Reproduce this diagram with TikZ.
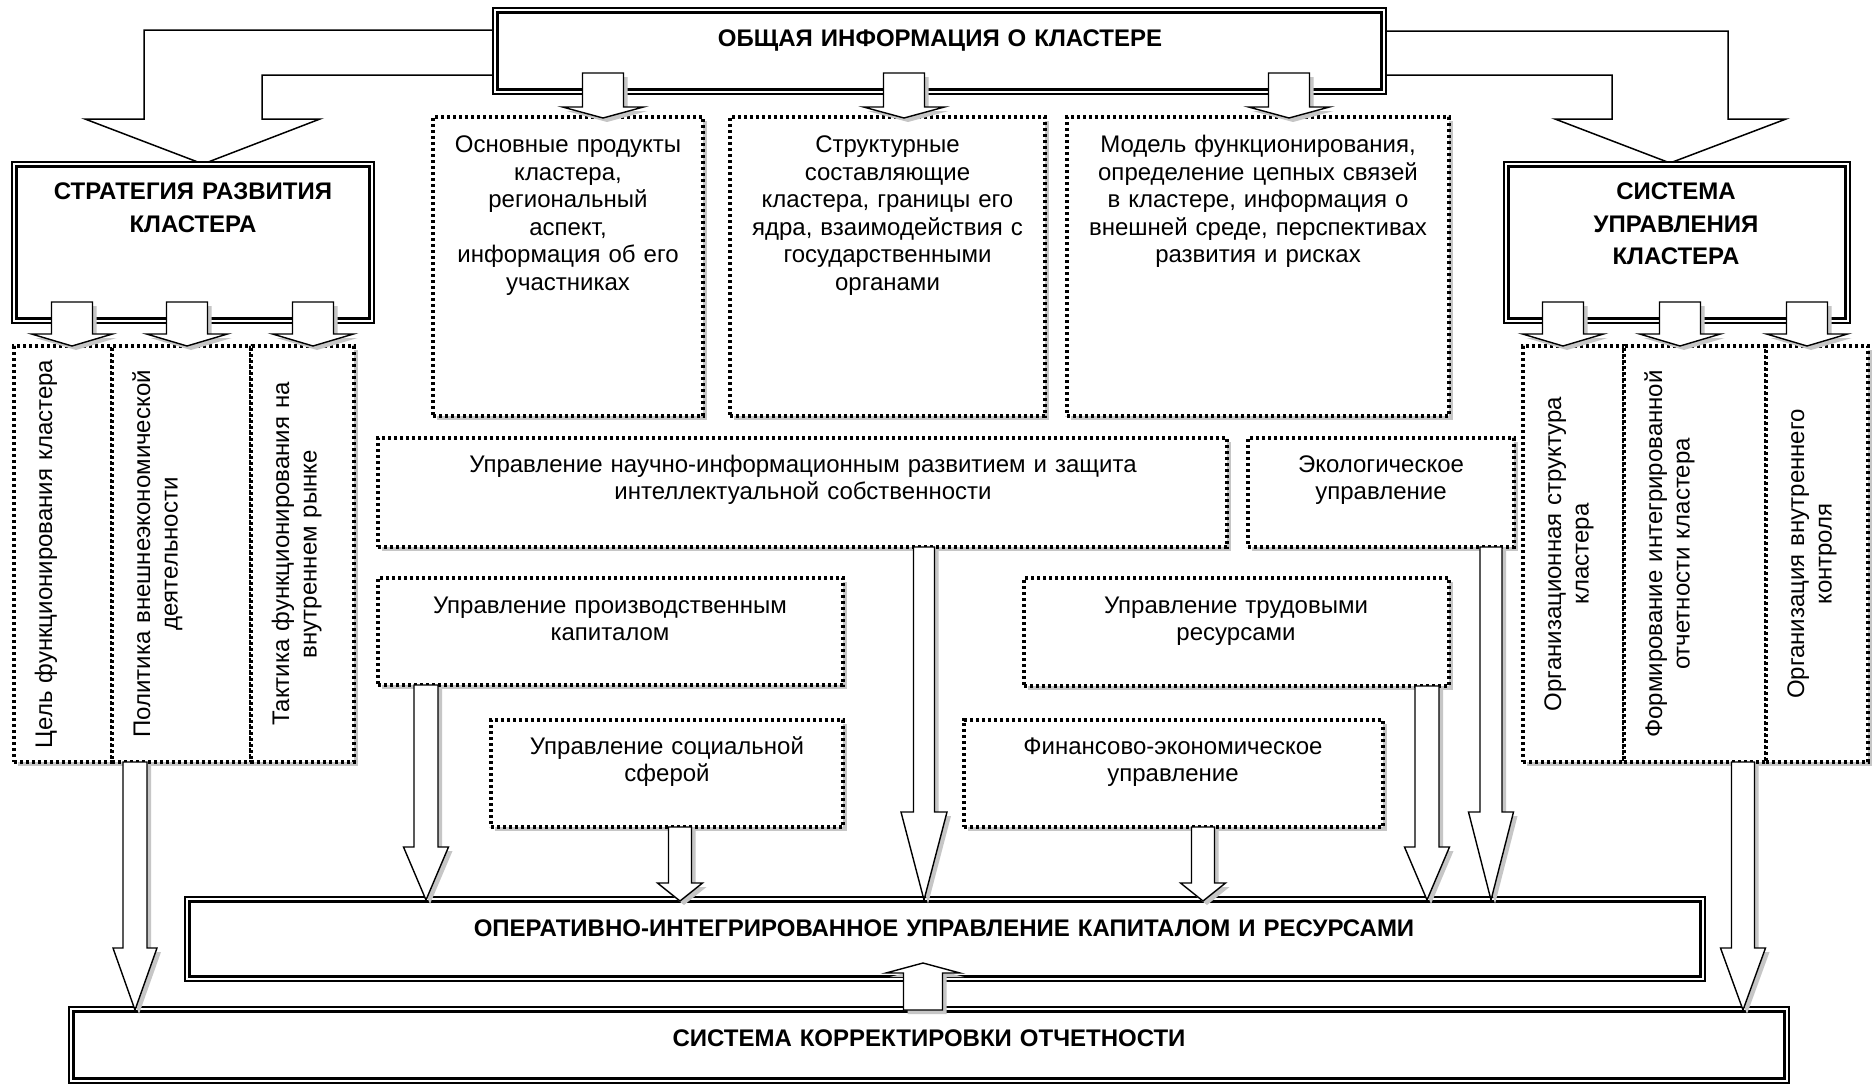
\documentclass[tikz,border=0pt]{standalone}
\usepackage{fontspec}
\setmainfont{Liberation Sans}
\usetikzlibrary{shadows,calc}

\tikzset{
  txt/.style={font=\fontsize{24}{27.6}\selectfont, anchor=base, align=center, inner sep=0pt, text width=#1},
  ttl/.style={font=\fontsize{24}{32.5}\selectfont\bfseries, anchor=base, align=center, inner sep=0pt, text width=#1},
  vtxt/.style={txt=420pt, rotate=90},
  castshadow/.style={general shadow={fill=gray!45, shadow xshift=4pt, shadow yshift=-4pt}},
  dotbox/.style={rectangle, draw, fill=white, line width=3.2pt, dash pattern=on 3.2pt off 2.8pt, inner sep=0pt, castshadow},
  dblbox/.style={rectangle, draw, fill=white, line width=1.4pt, inner sep=0pt},
  blk/.style={draw, fill=white, line width=1.4pt, line join=miter, castshadow},
  bent/.style={draw, fill=white, line width=1.5pt, line join=miter},
}

% inner heavy line of a double frame
\newcommand\dblframe[1]{\draw[line width=2.8pt] ([shift={(5.5pt,-5.5pt)}]#1.north west) rectangle ([shift={(-5.5pt,5.5pt)}]#1.south east);}

% vertical block arrow: start, tip, half shaft, half head, signed head length
\newcommand\blockarrow[5]{%
  \path[blk] let \p1=(#1), \p2=(#2) in
    (\x1-#3,\y1) -- (\x1-#3,\y2+#5) -- (\x1-#4,\y2+#5) -- (\x1,\y2)
    -- (\x1+#4,\y2+#5) -- (\x1+#3,\y2+#5) -- (\x1+#3,\y1) -- cycle;}

\begin{document}
\begin{tikzpicture}[x=1pt,y=-1pt]
\useasboundingbox[fill=white] (0,0) rectangle (1872,1084);

% bent arrows leaving the information block
\draw[bent] (500,30) -- (144,30) -- (144,119) -- (85,119) -- (203,164) -- (320,119)
  -- (262,119) -- (262,75) -- (500,75) -- cycle;
\draw[bent] (1380,31) -- (1728,31) -- (1728,119) -- (1786,119) -- (1670,163) -- (1555,119)
  -- (1612,119) -- (1612,75) -- (1380,75) -- cycle;

% double-framed blocks
\node[dblbox, minimum width=893pt, minimum height=86pt] (info) at (939.5,51) {};
\dblframe{info}
\node[dblbox, minimum width=362pt, minimum height=161pt] (strat) at (193,242.5) {};
\dblframe{strat}
\node[dblbox, minimum width=346pt, minimum height=161pt] (sys) at (1677,242.5) {};
\dblframe{sys}
\node[dblbox, minimum width=1520pt, minimum height=84pt] (oper) at (945,939) {};
\dblframe{oper}
\node[dblbox, minimum width=1720pt, minimum height=76pt] (korr) at (929,1045) {};
\dblframe{korr}

% dotted blocks
\node[dotbox, minimum width=270pt, minimum height=299pt] (prod) at (568,266.5) {};
\node[dotbox, minimum width=315pt, minimum height=299pt] (struct) at (887.5,266.5) {};
\node[dotbox, minimum width=382pt, minimum height=299pt] (model) at (1258,266.5) {};
\node[dotbox, minimum width=849pt, minimum height=109pt] (nauch) at (802.5,492.5) {};
\node[dotbox, minimum width=266pt, minimum height=109pt] (eco) at (1381,492.5) {};
\node[dotbox, minimum width=465pt, minimum height=107pt] (proizv) at (610.5,631.5) {};
\node[dotbox, minimum width=425pt, minimum height=108pt] (trud) at (1236.5,632) {};
\node[dotbox, minimum width=352pt, minimum height=107pt] (soc) at (667,773.5) {};
\node[dotbox, minimum width=419pt, minimum height=107pt] (fin) at (1173.5,773.5) {};

% column blocks
\node[dotbox, minimum width=98pt, minimum height=416pt] (lc1) at (63,554) {};
\node[dotbox, minimum width=139pt, minimum height=416pt] (lc2) at (181.5,554) {};
\node[dotbox, minimum width=103pt, minimum height=416pt] (lc3) at (302.5,554) {};
\node[dotbox, minimum width=101pt, minimum height=416pt] (rc1) at (1573.5,554) {};
\node[dotbox, minimum width=142pt, minimum height=416pt] (rc2) at (1695,554) {};
\node[dotbox, minimum width=102pt, minimum height=416pt] (rc3) at (1817,554) {};

% titles
\node[ttl=800pt] (infot) at (940,46.5) {ОБЩАЯ ИНФОРМАЦИЯ О КЛАСТЕРЕ};
\node[ttl=340pt] (stratt) at (193,199.5) {СТРАТЕГИЯ РАЗВИТИЯ\\КЛАСТЕРА};
\node[ttl=330pt] (syst) at (1676,199.5) {СИСТЕМА\\УПРАВЛЕНИЯ\\КЛАСТЕРА};
\node[ttl=1400pt] (opert) at (944,936.5) {ОПЕРАТИВНО-ИНТЕГРИРОВАННОЕ УПРАВЛЕНИЕ КАПИТАЛОМ И РЕСУРСАМИ};
\node[ttl=1600pt] (korrt) at (929,1046.5) {СИСТЕМА КОРРЕКТИРОВКИ ОТЧЕТНОСТИ};

% block texts
\node[txt=260pt] (prodt) at (568,152.5) {Основные продукты\\кластера,\\региональный\\аспект,\\информация об его\\участниках};
\node[txt=305pt] (structt) at (887.5,152.5) {Структурные\\составляющие\\кластера, границы его\\ядра, взаимодействия с\\государственными\\органами};
\node[txt=372pt] (modelt) at (1258,152.5) {Модель функционирования,\\определение цепных связей\\в кластере, информация о\\внешней среде, перспективах\\развития и рисках};
\node[txt=840pt] (naucht) at (803,472) {Управление научно-информационным развитием и защита\\интеллектуальной собственности};
\node[txt=260pt] (ecot) at (1381,472) {Экологическое\\управление};
\node[txt=460pt] (proizvt) at (610,613) {Управление производственным\\капиталом};
\node[txt=420pt] (trudt) at (1236,613) {Управление трудовыми\\ресурсами};
\node[txt=350pt] (soct) at (667,754) {Управление социальной\\сферой};
\node[txt=415pt] (fint) at (1173,754) {Финансово-экономическое\\управление};

% column texts
\node[vtxt] (lc1t) at (52,554) {Цель функционирования кластера};
\node[vtxt] (lc2t) at (150,554) {Политика внешнеэкономической\\деятельности};
\node[vtxt] (lc3t) at (289,554) {Тактика функционирования на\\внутреннем рынке};
\node[vtxt] (rc1t) at (1561,554) {Организационная структура\\кластера};
\node[vtxt] (rc2t) at (1662,554) {Формирование интегрированной\\отчетности кластера};
\node[vtxt] (rc3t) at (1804,554) {Организация внутреннего\\контроля};

% arrow ends
\coordinate (i1) at (603,73);   \coordinate (p1) at (603,118);
\coordinate (i2) at (904,73);   \coordinate (p2) at (904,118);
\coordinate (i3) at (1289,73);  \coordinate (p3) at (1289,118);
\coordinate (s1) at (72,302);   \coordinate (c1) at (72,346);
\coordinate (s2) at (187,302);  \coordinate (c2) at (187,346);
\coordinate (s3) at (313,302);  \coordinate (c3) at (313,346);
\coordinate (u1) at (1563,302); \coordinate (d1) at (1563,346);
\coordinate (u2) at (1680,302); \coordinate (d2) at (1680,346);
\coordinate (u3) at (1807,302); \coordinate (d3) at (1807,346);
\coordinate (lcout) at (135,762);  \coordinate (korrl) at (135,1010);
\coordinate (rcout) at (1743,762); \coordinate (korrr) at (1743,1010);
\coordinate (proizvout) at (426,685); \coordinate (oper1) at (426,900);
\coordinate (socout) at (680,827);    \coordinate (oper2) at (680,901);
\coordinate (nauchout) at (924,547);  \coordinate (oper3) at (924,900);
\coordinate (finout) at (1203,827);   \coordinate (oper4) at (1203,901);
\coordinate (trudout) at (1427,686);  \coordinate (oper5) at (1427,900);
\coordinate (ecoout) at (1491,547);   \coordinate (oper6) at (1491,900);
\coordinate (korrup) at (923,1010);   \coordinate (operin) at (923,963);

% short arrows
\blockarrow{i1}{p1}{20.5pt}{40.5pt}{11pt}
\blockarrow{i2}{p2}{20.5pt}{40.5pt}{11pt}
\blockarrow{i3}{p3}{20.5pt}{40.5pt}{11pt}
\blockarrow{s1}{c1}{20.5pt}{40.5pt}{12pt}
\blockarrow{s2}{c2}{20.5pt}{40.5pt}{12pt}
\blockarrow{s3}{c3}{20.5pt}{40.5pt}{12pt}
\blockarrow{u1}{d1}{20.5pt}{40.5pt}{12pt}
\blockarrow{u2}{d2}{20.5pt}{40.5pt}{12pt}
\blockarrow{u3}{d3}{20.5pt}{40.5pt}{12pt}

% long arrows
\blockarrow{lcout}{korrl}{12pt}{22pt}{62pt}
\blockarrow{rcout}{korrr}{11.5pt}{22.5pt}{62pt}
\blockarrow{proizvout}{oper1}{12pt}{22.5pt}{53pt}
\blockarrow{socout}{oper2}{11.5pt}{22.5pt}{18pt}
\blockarrow{nauchout}{oper3}{10.5pt}{23pt}{88pt}
\blockarrow{finout}{oper4}{11.5pt}{22.5pt}{18pt}
\blockarrow{trudout}{oper5}{12pt}{22.5pt}{53pt}
\blockarrow{ecoout}{oper6}{11pt}{22.5pt}{88pt}
\blockarrow{korrup}{operin}{19.5pt}{37pt}{-10pt}
\end{tikzpicture}
\end{document}
